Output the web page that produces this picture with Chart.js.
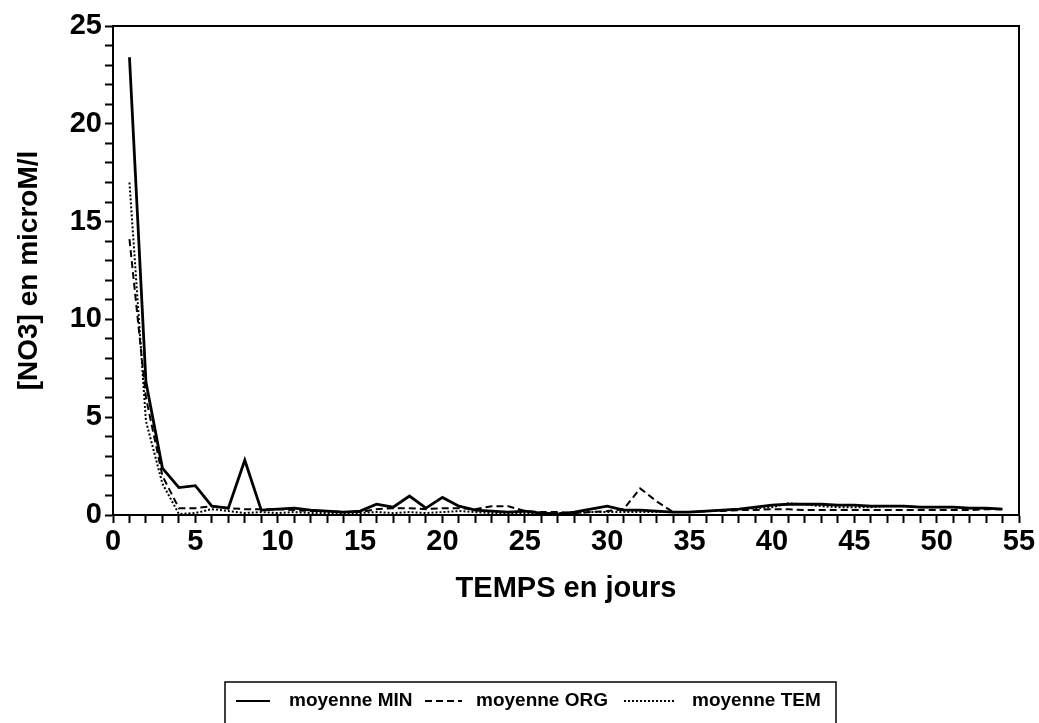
<!DOCTYPE html>
<html>
<head>
<meta charset="utf-8">
<script src="https://cdn.jsdelivr.net/npm/chart.js@4.4.0/dist/chart.umd.min.js"></script>
<style>
  html, body { margin: 0; padding: 0; background: #fff; }
  #wrap { width: 1039px; height: 723px; }
</style>
</head>
<body>
<div id="wrap"><canvas id="no3Chart" width="1039" height="723"></canvas></div>
<script>
// Mean nitrate concentration per day, three treatments
const days = [
    1, 2, 3, 4, 5, 6, 7, 8, 9, 10,
    11, 12, 13, 14, 15, 16, 17, 18, 19, 20,
    21, 22, 23, 24, 25, 26, 27, 28, 29, 30,
    31, 32, 33, 34, 35, 36, 37, 38, 39, 40,
    41, 42, 43, 44, 45, 46, 47, 48, 49, 50,
    51, 52, 53, 54
];

const moyenneMIN = [
    23.4, 6.8, 2.4, 1.4, 1.5, 0.45, 0.35, 2.8, 0.25, 0.3,
    0.35, 0.25, 0.2, 0.15, 0.2, 0.55, 0.4, 0.97, 0.35, 0.9,
    0.45, 0.25, 0.2, 0.15, 0.2, 0.1, 0.05, 0.15, 0.3, 0.45,
    0.25, 0.25, 0.2, 0.15, 0.15, 0.2, 0.25, 0.3, 0.4, 0.5,
    0.55, 0.55, 0.55, 0.5, 0.5, 0.45, 0.45, 0.45, 0.4, 0.4,
    0.4, 0.35, 0.35, 0.3
];

const moyenneORG = [
    14.1, 6.0, 2.0, 0.35, 0.35, 0.45, 0.35, 0.3, 0.3, 0.3,
    0.25, 0.2, 0.2, 0.15, 0.15, 0.3, 0.35, 0.35, 0.3, 0.35,
    0.35, 0.3, 0.45, 0.45, 0.2, 0.15, 0.15, 0.1, 0.15, 0.2,
    0.3, 1.36, 0.7, 0.15, 0.15, 0.2, 0.2, 0.25, 0.25, 0.3,
    0.3, 0.25, 0.25, 0.25, 0.25, 0.25, 0.25, 0.25, 0.25, 0.25,
    0.25, 0.25, 0.3, 0.3
];

const moyenneTEM = [
    17.0, 4.8, 1.6, 0.05, 0.1, 0.3, 0.2, 0.1, 0.15, 0.1,
    0.15, 0.1, 0.1, 0.1, 0.1, 0.15, 0.1, 0.15, 0.1, 0.15,
    0.2, 0.15, 0.1, 0.1, 0.1, 0.1, 0.1, 0.1, 0.15, 0.15,
    0.15, 0.15, 0.15, 0.15, 0.15, 0.2, 0.25, 0.3, 0.35, 0.4,
    0.6, 0.55, 0.45, 0.4, 0.4, 0.4, 0.45, 0.45, 0.4, 0.4,
    0.4, 0.35, 0.35, 0.3
];

// Only every fifth minor tick gets a number
const xTickLabels = [0, 5, 10, 15, 20, 25, 30, 35, 40, 45, 50, 55];
const yTickLabels = [0, 5, 10, 15, 20, 25];

const seriesNames = ['moyenne MIN', 'moyenne ORG', 'moyenne TEM'];
const seriesDash = [[], [7, 4], [2, 2]];
const seriesWidth = [2.8, 2, 2];

const toPoints = values => days.map((d, i) => ({ x: d, y: values[i] }));

const tickFont = { family: 'Liberation Sans, Arial, sans-serif', size: 29, weight: 'bold' };

// Closes the plot frame (top + right) and draws the boxed legend below the chart
const framePlugin = {
    id: 'frameAndLegend',
    afterDraw(chart) {
        const { ctx, chartArea: a } = chart;
        ctx.save();
        ctx.strokeStyle = '#000';
        ctx.lineWidth = 2;
        ctx.beginPath();
        ctx.moveTo(a.left, a.top);
        ctx.lineTo(a.right, a.top);
        ctx.lineTo(a.right, a.bottom);
        ctx.stroke();

        // legend box, bottom edge runs off the page
        const boxLeft = 225, boxTop = 682, boxRight = 836;
        ctx.lineWidth = 1.5;
        ctx.strokeRect(boxLeft, boxTop, boxRight - boxLeft, 60);

        ctx.font = 'bold 19px Liberation Sans, Arial, sans-serif';
        ctx.fillStyle = '#000';
        ctx.textBaseline = 'middle';
        const rowY = 701;
        const sampleX = [[236, 270], [425, 462], [624, 674]];
        const textX = [289, 476, 692];
        seriesNames.forEach((name, i) => {
            ctx.setLineDash(seriesDash[i]);
            ctx.lineWidth = Math.min(seriesWidth[i], 2);
            ctx.beginPath();
            ctx.moveTo(sampleX[i][0], rowY);
            ctx.lineTo(sampleX[i][1], rowY);
            ctx.stroke();
            ctx.setLineDash([]);
            ctx.fillText(name, textX[i], rowY);
        });
        ctx.restore();
    }
};

const ctx = document.getElementById('no3Chart').getContext('2d');

new Chart(ctx, {
    type: 'line',
    data: {
        datasets: [
            { label: seriesNames[0], data: toPoints(moyenneMIN) },
            { label: seriesNames[1], data: toPoints(moyenneORG) },
            { label: seriesNames[2], data: toPoints(moyenneTEM) }
        ].map((ds, i) => ({
            ...ds,
            borderColor: '#000',
            backgroundColor: '#000',
            borderWidth: seriesWidth[i],
            borderDash: seriesDash[i],
            pointRadius: 0,
            tension: 0,
            fill: false
        }))
    },
    options: {
        responsive: false,
        animation: false,
        layout: { padding: { top: 26, right: 20, bottom: 113, left: 0 } },
        plugins: {
            legend: { display: false },
            tooltip: { enabled: false }
        },
        scales: {
            x: {
                type: 'linear',
                min: 0,
                max: 55,
                afterFit: scale => { scale.height = 95; },
                ticks: {
                    stepSize: 1,
                    autoSkip: false,
                    maxRotation: 0,
                    padding: 2,
                    color: '#000',
                    font: tickFont,
                    callback: v => xTickLabels.includes(v) ? String(v) : ''
                },
                grid: {
                    drawOnChartArea: false,
                    drawTicks: true,
                    tickLength: 8,
                    tickWidth: 2,
                    tickColor: '#000'
                },
                border: { color: '#000', width: 2 },
                title: {
                    display: true,
                    text: 'TEMPS en jours',
                    color: '#000',
                    font: tickFont,
                    padding: { top: 2 }
                }
            },
            y: {
                min: 0,
                max: 25,
                afterFit: scale => { scale.width = 113; },
                ticks: {
                    stepSize: 1,
                    autoSkip: false,
                    padding: 3,
                    color: '#000',
                    font: tickFont,
                    callback: v => yTickLabels.includes(v) ? String(v) : ''
                },
                grid: {
                    drawOnChartArea: false,
                    drawTicks: true,
                    tickLength: 8,
                    tickWidth: 2,
                    tickColor: '#000'
                },
                border: { color: '#000', width: 2 },
                title: {
                    display: true,
                    text: '[NO3] en microM/l',
                    color: '#000',
                    font: { family: 'Liberation Sans, Arial, sans-serif', size: 28, weight: 'bold' },
                    padding: { top: 12, bottom: 0 }
                }
            }
        }
    },
    plugins: [framePlugin]
});
</script>
</body>
</html>
